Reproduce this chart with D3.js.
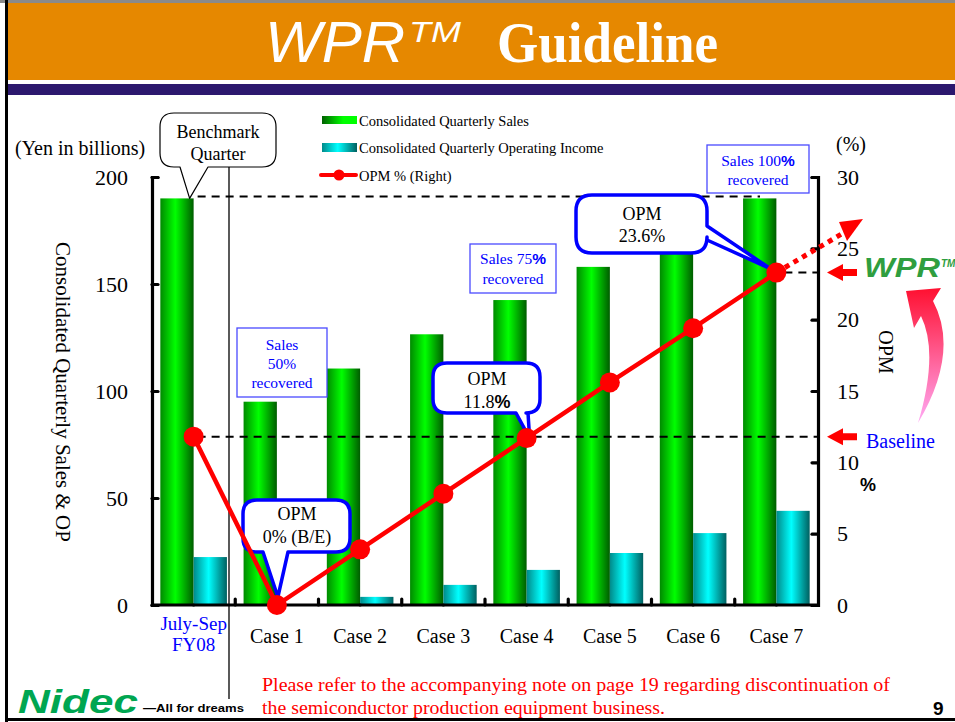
<!DOCTYPE html>
<html><head><meta charset="utf-8">
<script src="https://cdn.jsdelivr.net/npm/d3@7"></script>
<style>body{margin:0;background:#fff}svg{display:block}</style>
</head><body>
<svg id="c" width="955" height="722"></svg>
<script>
// ---------- data ----------
const categories = ["FY08","Case 1","Case 2","Case 3","Case 4","Case 5","Case 6","Case 7"];
const categoryLabels = [["July-Sep","FY08"],["Case 1"],["Case 2"],["Case 3"],["Case 4"],["Case 5"],["Case 6"],["Case 7"]];
const sales = [190, 95, 110.5, 126.5, 142.5, 158, 174, 190];
const operatingIncome = [22.4, 0, 3.8, 9.4, 16.4, 24.3, 33.6, 44];
const opm = [11.8, 0, 3.9, 7.8, 11.7, 15.6, 19.4, 23.3];
const leftTicks = [0, 50, 100, 150, 200];
const rightTicks = [0, 5, 10, 15, 20, 25, 30];
const seriesNames = ["Consolidated Quarterly Sales", "Consolidated Quarterly Operating Income", "OPM % (Right)"];

const svg = d3.select("#c");
const SERIF = "'Liberation Serif','Times New Roman',serif";
const SANS = "'Liberation Sans',Arial,sans-serif";

// ---------- defs ----------
const defs = svg.append("defs");
function hGrad(id, stops){
  const g = defs.append("linearGradient").attr("id", id).attr("x1",0).attr("x2",1).attr("y1",0).attr("y2",0);
  stops.forEach(s => g.append("stop").attr("offset", s[0]).attr("stop-color", s[1]));
}
hGrad("gGreen", [[0,"#008a00"],[0.45,"#00ff00"],[1,"#005c00"]]);
hGrad("gCyan", [[0,"#008a8a"],[0.45,"#00ffff"],[1,"#006060"]]);
hGrad("gGreenLeg", [[0,"#006000"],[0.6,"#00ff00"],[1,"#00ff00"]]);
const vg = defs.append("linearGradient").attr("id","gPink").attr("x1",0).attr("x2",0).attr("y1",0).attr("y2",1);
vg.append("stop").attr("offset",0).attr("stop-color","#ff1030");
vg.append("stop").attr("offset",1).attr("stop-color","#ffaaf5");

// ---------- slide frame / header ----------
svg.append("rect").attr("x",0).attr("y",0).attr("width",955).attr("height",3).attr("fill","#8a8a8a");
svg.append("rect").attr("x",8).attr("y",3).attr("width",947).attr("height",77).attr("fill","#e68800");
svg.append("rect").attr("x",8).attr("y",84).attr("width",947).attr("height",11).attr("fill","#2c186e");
svg.append("rect").attr("x",5).attr("y",0).attr("width",3).attr("height",722).attr("fill","#000");
svg.append("rect").attr("x",5).attr("y",718).attr("width",950).attr("height",3).attr("fill","#000");

svg.append("text").attr("x",265).attr("y",62).attr("fill","#fff")
  .attr("font-family",SANS).attr("font-style","italic").attr("font-size",58)
  .attr("textLength",140).attr("lengthAdjust","spacingAndGlyphs").text("WPR");
svg.append("text").attr("x",409).attr("y",42).attr("fill","#fff")
  .attr("font-family",SANS).attr("font-style","italic").attr("font-size",29)
  .attr("textLength",52).attr("lengthAdjust","spacingAndGlyphs").text("TM");
svg.append("text").attr("x",497).attr("y",62).attr("fill","#fff").attr("font-family",SERIF)
  .attr("font-weight","bold").attr("font-size",56).attr("textLength",221).attr("lengthAdjust","spacingAndGlyphs")
  .text("Guideline");

// ---------- scales ----------
const x0 = d3.scaleBand(categories, [152, 818]).paddingInner(0.2).paddingOuter(0.1);
const x1 = d3.scaleBand(["sales","op"], [0, x0.bandwidth()]);
const y = d3.scaleLinear([0, 200], [605, 177]);
const y2 = d3.scaleLinear([0, 30], [605, 177]);
const xc = c => x0(c) + x0.bandwidth()/2;

// ---------- bars ----------
const bars = svg.append("g");
categories.forEach((c, i) => {
  bars.append("rect").attr("x", x0(c)+x1("sales")).attr("y", y(sales[i]))
    .attr("width", x1.bandwidth()).attr("height", y(0)-y(sales[i])).attr("fill","url(#gGreen)");
  if (operatingIncome[i] > 0)
    bars.append("rect").attr("x", x0(c)+x1("op")).attr("y", y(operatingIncome[i]))
      .attr("width", x1.bandwidth()).attr("height", y(0)-y(operatingIncome[i])).attr("fill","url(#gCyan)");
});

// ---------- dashed reference lines ----------
const dash = (x1_, x2_, yy) => svg.append("line").attr("x1",x1_).attr("x2",x2_).attr("y1",yy).attr("y2",yy)
  .attr("stroke","#000").attr("stroke-width",2).attr("stroke-dasharray","8,6");
dash(xc(categories[0])+4, 760, y(sales[0])-2);
dash(xc(categories[0])+4, 818, y2(opm[0]));
dash(xc(categories[7])+8, 818, y2(opm[7]));

// vertical separator
svg.append("line").attr("x1",229).attr("x2",229).attr("y1",167).attr("y2",699).attr("stroke","#000").attr("stroke-width",1.3);

// ---------- axes ----------
const axL = svg.append("g").attr("transform","translate(152,0)")
  .call(d3.axisLeft(y).tickValues(leftTicks).tickSizeInner(-6).tickSizeOuter(-6).tickPadding(24));
const axR = svg.append("g").attr("transform","translate(818,0)")
  .call(d3.axisRight(y2).tickValues(rightTicks).tickSizeInner(-6).tickSizeOuter(-6).tickPadding(19));
const axB = svg.append("g").attr("transform","translate(0,605)")
  .call(d3.axisBottom(x0).tickSize(0).tickFormat(""));
[axL, axR, axB].forEach(a => {
  a.selectAll("path,line").attr("stroke","#000").attr("stroke-width",3.2).attr("stroke-linecap","round");
  a.selectAll("text").attr("font-family",SERIF).attr("font-size",22).attr("fill","#000");
});
axB.select(".domain").attr("d","M152,0H818");
const bounds = categories.slice(1).map(c => x0(c) - x0.step()*x0.paddingInner()/2);
svg.append("g").selectAll("line").data(bounds).join("line")
  .attr("x1",d=>d).attr("x2",d=>d).attr("y1",605).attr("y2",599)
  .attr("stroke","#000").attr("stroke-width",3.2).attr("stroke-linecap","round");

// category labels
categories.forEach((c, i) => {
  const lines = categoryLabels[i];
  const first = lines.length > 1;
  lines.forEach((t, k) => svg.append("text").attr("x", xc(c)).attr("y", first ? 630 + k*21 : 643)
    .attr("text-anchor","middle").attr("font-family",SERIF).attr("font-size", first ? 19 : 20)
    .attr("fill", first ? "#0000ff" : "#000").text(t));
});

// axis titles
svg.append("text").attr("x",15).attr("y",155).attr("font-family",SERIF).attr("font-size",20).text("(Yen in billions)");
svg.append("text").attr("transform","translate(56,392) rotate(90)").attr("text-anchor","middle")
  .attr("font-family",SERIF).attr("font-size",21).text("Consolidated Quarterly Sales & OP");
svg.append("text").attr("x",836).attr("y",151).attr("font-family",SERIF).attr("font-size",20).text("(%)");
svg.append("text").attr("transform","translate(879,352) rotate(90)").attr("text-anchor","middle")
  .attr("font-family",SERIF).attr("font-size",20).text("OPM");
svg.append("text").attr("x",860).attr("y",491).attr("font-family",SANS).attr("font-weight","bold").attr("font-size",18).text("%");

// ---------- legend ----------
svg.append("rect").attr("x",322).attr("y",116).attr("width",35).attr("height",8).attr("fill","url(#gGreenLeg)");
svg.append("rect").attr("x",322).attr("y",143).attr("width",35).attr("height",9).attr("fill","url(#gCyan)");
svg.append("line").attr("x1",321).attr("x2",356).attr("y1",175).attr("y2",175).attr("stroke","#ff0000").attr("stroke-width",4).attr("stroke-linecap","round");
svg.append("circle").attr("cx",339).attr("cy",175).attr("r",5.5).attr("fill","#ff0000");
[126,153,181].forEach((yy,i) => svg.append("text").attr("x",359).attr("y",yy)
  .attr("font-family",SERIF).attr("font-size",14.5).text(seriesNames[i]));

// ---------- callouts ----------
function calloutPath(x, yy, w, h, r, t){
  let p = `M${x+r},${yy} H${x+w-r} Q${x+w},${yy} ${x+w},${yy+r}`;
  if (t && t.side === "right") p += ` V${t.a} L${t.tip[0]},${t.tip[1]} L${x+w},${t.b}`;
  p += ` V${yy+h-r} Q${x+w},${yy+h} ${x+w-r},${yy+h}`;
  if (t && t.side === "bottom") p += ` H${t.b} L${t.tip[0]},${t.tip[1]} L${t.a},${yy+h}`;
  p += ` H${x+r} Q${x},${yy+h} ${x},${yy+h-r} V${yy+r} Q${x},${yy} ${x+r},${yy} Z`;
  return p;
}
function callout(box, tail, stroke, sw, lines){
  svg.append("path").attr("d", calloutPath(box[0],box[1],box[2],box[3],box[4],tail))
    .attr("fill","#fff").attr("stroke",stroke).attr("stroke-width",sw).attr("stroke-linejoin","round");
  lines.forEach(l => {
    const t = svg.append("text").attr("x",l.x).attr("y",l.y).attr("text-anchor","middle")
      .attr("font-family",SERIF).attr("font-size",l.size || 18).attr("fill",l.fill || "#000");
    l.parts.forEach(pt => {
      const s = t.append("tspan").text(pt.t);
      if (pt.bold) s.attr("font-family",SANS).attr("font-weight","bold");
    });
  });
}
// Benchmark
callout([160,113,116,54,14], {side:"bottom", a:180, b:208, tip:[xc(categories[0])-4, y(sales[0])]}, "#000", 1.2,
  [{x:218,y:138,parts:[{t:"Benchmark"}]},{x:218,y:160,parts:[{t:"Quarter"}]}]);

// ---------- sales recovery boxes ----------
function box(x, yy, w, h, lines){
  svg.append("rect").attr("x",x).attr("y",yy).attr("width",w).attr("height",h)
    .attr("fill","#fff").attr("stroke","#4a4aff").attr("stroke-width",1.3);
  lines.forEach(l => {
    const t = svg.append("text").attr("x",x+w/2).attr("y",l.y).attr("text-anchor","middle")
      .attr("font-family",SERIF).attr("font-size",15.5).attr("fill","#0000ff");
    l.parts.forEach(pt => {
      const s = t.append("tspan").text(pt.t);
      if (pt.bold) s.attr("font-family",SANS).attr("font-weight","bold");
    });
  });
}
box(237,328,90,69,[{y:350,parts:[{t:"Sales"}]},{y:369,parts:[{t:"50%"}]},{y:388,parts:[{t:"recovered"}]}]);
box(470,244,86,49,[{y:264,parts:[{t:"Sales 75"},{t:"%",bold:true}]},{y:284,parts:[{t:"recovered"}]}]);
box(707,145,102,48,[{y:166,parts:[{t:"Sales 100"},{t:"%",bold:true}]},{y:185,parts:[{t:"recovered"}]}]);

// OPM callouts (blue)
callout([243,500,107,52,14], {side:"bottom", a:263, b:288, tip:[xc(categories[1])+1, y2(opm[1])-8]}, "#0000ff", 3.5,
  [{x:297,y:520,parts:[{t:"OPM"}]},{x:297,y:543,parts:[{t:"0% (B/E)"}]}]);
callout([433,363,107,50,14], {side:"bottom", a:516, b:528, tip:[xc(categories[4])+3, y2(opm[4])]}, "#0000ff", 3.5,
  [{x:487,y:385,parts:[{t:"OPM"}]},{x:487,y:408,parts:[{t:"11.8"},{t:"%",bold:true}]}]);
callout([576,195,131,58,16], {side:"right", a:226, b:240, tip:[xc(categories[7])-6, y2(opm[7])-4]}, "#0000ff", 3.5,
  [{x:642,y:220,parts:[{t:"OPM"}]},{x:642,y:242,parts:[{t:"23.6%"}]}]);

// ---------- OPM line ----------
const pts = categories.map((c,i) => [xc(c), y2(opm[i])]);
const last = pts[pts.length-1];
svg.append("line").attr("x1",last[0]).attr("y1",last[1]).attr("x2",845).attr("y2",232)
  .attr("stroke","#ff0000").attr("stroke-width",5).attr("stroke-dasharray","5,5");
svg.append("path").attr("d","M863,219 L839,222 L847,241 Z").attr("fill","#ff0000");
svg.append("path").attr("d", d3.line()(pts)).attr("fill","none").attr("stroke","#ff0000").attr("stroke-width",4.5);
svg.append("g").selectAll("circle").data(pts).join("circle")
  .attr("cx",d=>d[0]).attr("cy",d=>d[1]).attr("r",10).attr("fill","#ff0000");

// ---------- right-side annotations ----------
function leftArrow(yy){
  svg.append("path").attr("d",`M827,${yy} L843,${yy-8.5} L843,${yy-3.5} L857,${yy-3.5} L857,${yy+3.5} L843,${yy+3.5} L843,${yy+8.5} Z`)
    .attr("fill","#ff0000");
}
leftArrow(y2(opm[7]));
leftArrow(y2(opm[0]));
svg.append("text").attr("x",866).attr("y",448).attr("font-family",SERIF).attr("font-size",20).attr("fill","#0000ff").text("Baseline");
svg.append("text").attr("x",864).attr("y",277).attr("font-family",SANS).attr("font-weight","bold")
  .attr("font-style","italic").attr("font-size",27).attr("fill","#2f9e3f")
  .attr("textLength",76).attr("lengthAdjust","spacingAndGlyphs").text("WPR");
svg.append("text").attr("x",941).attr("y",267).attr("font-family",SANS).attr("font-weight","bold")
  .attr("font-style","italic").attr("font-size",10).attr("fill","#2f9e3f").text("TM");
svg.append("path").attr("d","M906,291 L941,288 L933,301 Q960,352 918,423 Q939,353 921,316 L914,328 Z").attr("fill","url(#gPink)");

// ---------- footer ----------
svg.append("text").attr("x",262).attr("y",691).attr("font-family",SERIF).attr("font-size",19).attr("fill","#ff0000")
  .attr("textLength",628).attr("lengthAdjust","spacingAndGlyphs")
  .text("Please refer to the accompanying note on page 19 regarding discontinuation of");
svg.append("text").attr("x",262).attr("y",714).attr("font-family",SERIF).attr("font-size",19).attr("fill","#ff0000")
  .attr("textLength",403).attr("lengthAdjust","spacingAndGlyphs")
  .text("the semiconductor production equipment business.");
svg.append("text").attr("x",933).attr("y",715).attr("font-family",SANS).attr("font-weight","bold").attr("font-size",19).text("9");
svg.append("text").attr("x",18).attr("y",713).attr("font-family",SANS).attr("font-weight","900").attr("font-style","italic")
  .attr("font-size",33).attr("fill","#00a651").attr("textLength",120).attr("lengthAdjust","spacingAndGlyphs").text("Nidec");
svg.append("text").attr("x",143).attr("y",712).attr("font-family",SANS).attr("font-weight","bold")
  .attr("font-size",11).attr("fill","#000").attr("textLength",101).attr("lengthAdjust","spacingAndGlyphs").text("—All for dreams");
</script>
</body></html>
